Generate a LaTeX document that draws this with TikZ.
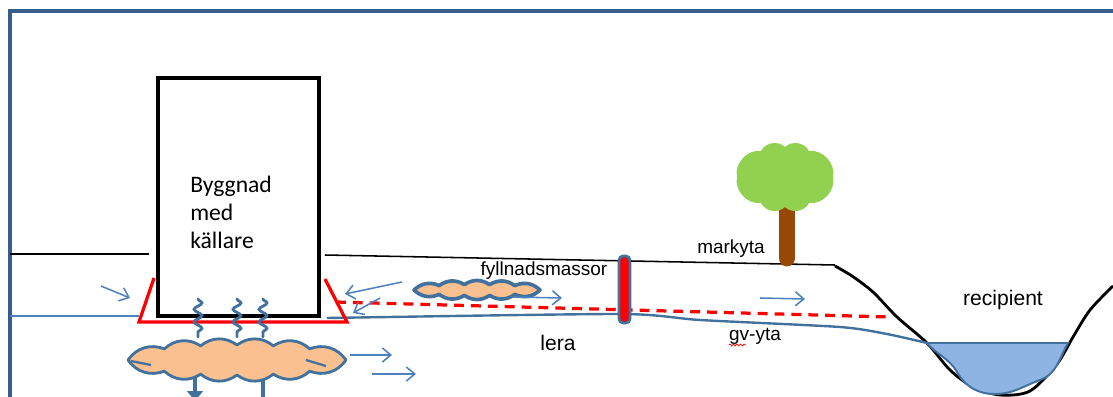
\documentclass[tikz,border=0pt]{standalone}
\usepackage{fontspec}
\setmainfont{Liberation Sans}
\newfontfamily\bodyfont{Carlito}
\usetikzlibrary{positioning,
				arrows.meta,
				decorations.pathmorphing}

\definecolor{gvblue}{HTML}{4F81BD}
\definecolor{edgeblue}{HTML}{41719C}
\definecolor{frameblue}{HTML}{385D8A}
\definecolor{fillorange}{HTML}{FAC090}
\definecolor{waterblue}{HTML}{8EB4E3}
\definecolor{leafgreen}{HTML}{92D050}
\definecolor{trunkbrown}{HTML}{974706}

% bumpy outline: centre x, centre y, width, height, puffs per side, bend
\newcommand\puffpath[6]{%
	({#1+#3/2},{#2})
	\foreach \i in {1,...,#5}{
		to[bend left=#6] ({#1+#3/2*(1-2*\i/#5)},{#2+#4/2*sin(acos(1-2*\i/#5))})}
	\foreach \i in {1,...,#5}{
		to[bend left=#6] ({#1-#3/2*(1-2*\i/#5)},{#2-#4/2*sin(acos(1-2*\i/#5))})} -- cycle}

\tikzset{
	flow/.style={gvblue, line width=1.1pt, -{Straight Barb[length=6pt,width=10pt]}},
	puff/.style={draw=edgeblue, fill=fillorange, line width=2pt, line join=round},
	seal/.style={red, line width=2.3pt},
	wiggle/.style={edgeblue, line width=2pt, line cap=round, decorate,
		decoration={snake, amplitude=2.8pt, segment length=9pt}},
	lbl/.style={font=\fontsize{13.5}{16}\selectfont, inner sep=0pt},
	biglbl/.style={font=\fontsize{15}{18}\selectfont, inner sep=0pt}
}

\begin{document}
\begin{tikzpicture}[x=0.025cm, y=-0.025cm]
	\useasboundingbox (0,0) rectangle (1113,396);
	\clip (0,0) rectangle (1113,396);
	\draw[frameblue, line width=2.8pt] (10,11) rectangle (1130,420);

	% ground surface and the ditch
	\draw[black, line width=1.1pt] (10,254) -- (149,254);
	\draw[black, line width=1.1pt] (325,255) -- (835,265);
	\draw[black, line width=2pt] plot[smooth, tension=0.5] coordinates {(835,266) (852,276) (873,292) (897,317) (927,343)
		(950,370) (973,387) (1000,395) (1030,391) (1057,364) (1073,337) (1090,310) (1113,286)};

	% water in the recipient
	\draw[edgeblue, fill=waterblue, line width=1.4pt] (927,343) -- (1068,343)
		to[out=-120,in=20] (1040,380) to[out=-160,in=0] (995,394)
		to[out=180,in=-60] (957,372) to[out=120,in=-50] cycle;

	% groundwater surface
	\draw[gvblue, line width=1.7pt] (10,316) -- (139,316);
	\draw[edgeblue, line width=1.7pt] plot[smooth, tension=0.4] coordinates {(327,318) (620,314) (700,320)
		(840,327) (887,334) (927,343)};
	\draw[red, line width=2.3pt, dash pattern=on 7pt off 5pt] (336,302) -- (890,317);

	% building
	\draw[black, line width=2.4pt] (158,78) rectangle (319,316);
	\node[align=left, inner sep=0pt, anchor=north west, font=\bodyfont\fontsize{16.8}{20}\selectfont]
		(bygg) at (190,176) {Byggnad\\med\\källare};
	\draw[seal] (154,278) -- (139,322) -- (347,322) -- (325,279);

	% moisture through the floor slab
	\foreach \x in {198,237,263}
		\draw[wiggle] (\x,299) -- (\x,337);

	% fill pockets
	\draw[edgeblue, line width=2.6pt, -{Triangle[length=7pt,width=11pt]}] (195,376) -- (195,401);
	\draw[edgeblue, line width=2.6pt] (263,376) -- (263,400);
	\draw[puff] \puffpath{237}{360}{218}{30}{6}{38};
	\draw[edgeblue, line width=1.6pt] (131,361) -- (151,365) (306,360) -- (326,366);
	\draw[puff, line width=2.6pt] \puffpath{477}{290}{126}{11}{5}{34};

	% well
	\draw[edgeblue, fill=red, line width=2pt, rounded corners=3pt] (619,256) rectangle (630,323);

	% tree
	\draw[trunkbrown, line width=12pt, line cap=round] (787,200) -- (787,258);
	\fill[leafgreen] \puffpath{785}{177}{96}{60}{4}{55};

	% flow directions
	\draw[flow] (101,286) -- (130,298);
	\draw[flow] (402,282) -- (345,294);
	\draw[flow] (380,298) -- (353,313);
	\draw[flow] (513,297) -- (562,298);
	\draw[flow] (350,355) -- (392,355);
	\draw[flow] (372,374) -- (416,374);
	\draw[flow] (760,298) -- (805,299);

	% labels
	\node[lbl, anchor=base] (fyll) at (544,275) {fyllnadsmassor};
	\node[lbl, anchor=base] (mark) at (731,253) {markyta};
	\node[biglbl, anchor=base] (lera) at (558,350) {lera};
	\node[lbl, anchor=base] (gv) at (755,340) {gv-yta};
	\draw[red, line width=0.5pt, decorate, decoration={snake, amplitude=0.7pt, segment length=2.5pt}]
		(gv.base west) ++(0,5) -- ++(17,0);
	\node[biglbl, anchor=base] (recip) at (1003,305) {recipient};
\end{tikzpicture}
\end{document}
